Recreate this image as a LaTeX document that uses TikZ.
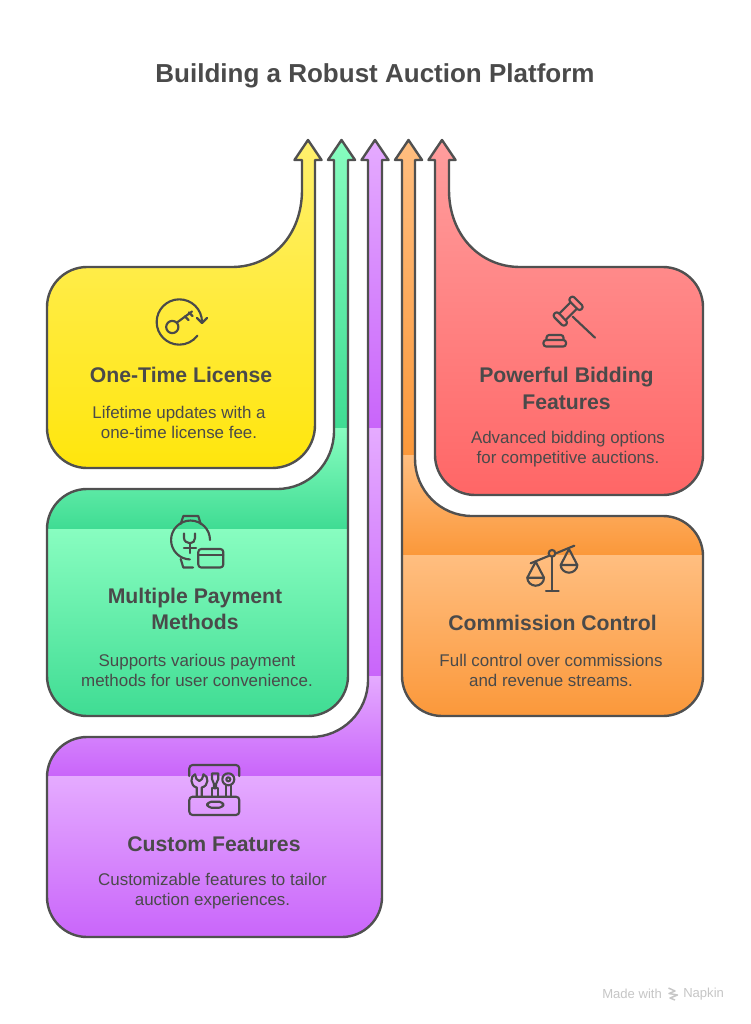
\documentclass[tikz,border=0pt]{standalone}
\usepackage{fontspec}
\setmainfont{Liberation Sans}
\definecolor{ink}{HTML}{4A4A4A}
\definecolor{outl}{HTML}{505050}
\definecolor{yT}{HTML}{FFF06E}\definecolor{yB}{HTML}{FFE60C}
\definecolor{gT}{HTML}{88FDC0}\definecolor{gB}{HTML}{3FDC93}
\definecolor{pT}{HTML}{E5ABFF}\definecolor{pB}{HTML}{C965FA}
\definecolor{oT}{HTML}{FFBE80}\definecolor{oB}{HTML}{FB983A}
\definecolor{rT}{HTML}{FF9E9E}\definecolor{rB}{HTML}{FF6666}
\definecolor{wmgray}{HTML}{C6C6C6}
\newcommand{\band}[4]{\shade[top color=#3,bottom color=#4] (0,#1) rectangle (750,#2);}
\tikzset{
  x=0.75pt,y=-0.75pt,
  outline/.style={draw=outl,line width=1.8pt,line join=round},
  icon/.style={draw=ink,line width=1.6pt,line cap=round,line join=round},
  titletext/.style={text=ink,font=\fontsize{19.5}{24}\selectfont\bfseries,inner sep=0pt},
  headtext/.style={text=ink,font=\fontsize{15.9}{20}\selectfont\bfseries,align=center,inner sep=0pt},
  bodytext/.style={text=ink,font=\fontsize{12.7}{15}\selectfont,align=center,inner sep=0pt},
  marktext/.style={text=wmgray,font=\fontsize{9.8}{11}\selectfont,inner sep=0pt},
}
\begin{document}
\begin{tikzpicture}
\useasboundingbox (0,0) rectangle (750,1024);
\fill[white] (0,0) rectangle (750,1024);
% yellow
\def\pathY{(308,140) -- (321.5,160) -- (315,160) -- (315,425) .. controls (315,449) and (296,468) .. (272,468) -- (87,468) .. controls (65,468) and (47,450) .. (47,428) -- (47,307) .. controls (47,285) and (65,267) .. (87,267) -- (232,267) .. controls (272,267) and (302,235) .. (302,190) -- (302,160) -- (294.5,160) -- cycle}
\begin{scope}\clip \pathY; \band{139}{469}{yT}{yB} \end{scope}
\path[outline] \pathY;
% green
\def\pathG{(341.5,140) -- (355,160) -- (348,160) -- (348,676) .. controls (348,698) and (330,716) .. (308,716) -- (87,716) .. controls (65,716) and (47,698) .. (47,676) -- (47,529) .. controls (47,507) and (65,489) .. (87,489) -- (277,489) .. controls (309,489) and (334,463) .. (334,431) -- (334,160) -- (328,160) -- cycle}
\begin{scope}\clip \pathG; \band{139}{428}{gT}{gB} \band{428}{529}{gT}{gB} \band{529}{717}{gT}{gB} \end{scope}
\path[outline] \pathG;
% purple
\def\pathP{(375,140) -- (388.5,160) -- (382,160) -- (382,897) .. controls (382,919) and (364,937) .. (342,937) -- (87,937) .. controls (65,937) and (47,919) .. (47,897) -- (47,777) .. controls (47,755) and (65,737) .. (87,737) -- (311,737) .. controls (342,737) and (368,712) .. (368,680) -- (368,160) -- (361.5,160) -- cycle}
\begin{scope}\clip \pathP; \band{139}{428}{pT}{pB} \band{428}{676}{pT}{pB} \band{676}{776}{pT}{pB} \band{776}{938}{pT}{pB} \end{scope}
\path[outline] \pathP;
% orange
\def\pathO{(408.5,140) -- (422,160) -- (415,160) -- (415,459) .. controls (415,490) and (440,516) .. (472,516) -- (663,516) .. controls (685,516) and (703,534) .. (703,556) -- (703,676) .. controls (703,698) and (685,716) .. (663,716) -- (442,716) .. controls (420,716) and (402,698) .. (402,676) -- (402,160) -- (395,160) -- cycle}
\begin{scope}\clip \pathO; \band{139}{455}{oT}{oB} \band{455}{555}{oT}{oB} \band{555}{717}{oT}{oB} \end{scope}
\path[outline] \pathO;
% red
\def\pathR{(442,140) -- (455.5,160) -- (449,160) -- (449,190) .. controls (449,235) and (480,267) .. (520,267) -- (663,267) .. controls (685,267) and (703,285) .. (703,307) -- (703,455) .. controls (703,477) and (685,495) .. (663,495) -- (475,495) .. controls (453,495) and (435,477) .. (435,455) -- (435,160) -- (428.5,160) -- cycle}
\begin{scope}\clip \pathR; \band{139}{496}{rT}{rB} \end{scope}
\path[outline] \pathR;
% texts
\node[titletext] (title) at (375,76) {Building a Robust Auction Platform};
\node[headtext] (h1) at (181,375) {One-Time License};
\node[bodytext] (b1) at (179,422) {Lifetime updates with a\\one-time license fee.};
\node[headtext] (h2) at (566.5,388.5) {Powerful Bidding\\Features};
\node[bodytext] (b2) at (568,449) {Advanced bidding options\\for competitive auctions.};
\node[headtext] (h3) at (195,609) {Multiple Payment\\Methods};
\node[bodytext] (b3) at (197,670) {Supports various payment\\methods for user convenience.};
\node[headtext] (h4) at (552.5,623) {Commission Control};
\node[bodytext] (b4) at (551,670) {Full control over commissions\\and revenue streams.};
\node[headtext] (h5) at (214,844) {Custom Features};
\node[bodytext] (b5) at (212.5,891) {Customizable features to tailor\\auction experiences.};
\node[marktext,anchor=west] (m1) at (602,994) {Made with};
\node[marktext,anchor=west] (m2) at (683,994) {Napkin};
\draw[draw=wmgray,line width=1.1pt,line join=round] (668.5,988) -- (675,991) -- (669,993.5) -- (677.5,995) -- (670,998) -- (675,1000);
% key icon
\begin{scope}[icon]
\draw (202,322) arc[start angle=0,end angle=323,radius=17pt];
\draw (197,318) -- (202,323) -- (207,318);
\draw (172.3,327) circle[radius=4.6pt];
\draw (177,322.5) -- (192,311.5);
\draw (185,316.5) -- (188.5,320);
\draw (189,312.5) -- (192.5,316);
\end{scope}
% gavel icon
\begin{scope}[icon]
\draw[rounded corners=2pt] (568.1,322.7) -- (563.8,326.8) -- (552.5,315.5) -- (556.8,311.2) -- cycle;
\draw[rounded corners=2pt] (583.8,307) -- (579.5,311.1) -- (568.2,299.8) -- (572.5,295.5) -- cycle;
\draw (559.2,313.7) -- (570.7,302.2);
\draw (565.6,320.1) -- (577.1,308.6);
\draw (572.7,316.7) -- (595,337.7);
\draw[rounded corners=2pt] (543.5,346.5) -- (543.5,340) -- (566,340) -- (566,346.5) -- cycle;
\draw[rounded corners=2pt] (546.5,340) -- (546.5,335) -- (563.5,335) -- (563.5,340);
\end{scope}
% watch icon
\begin{scope}[icon]
\draw (210,540) arc[start angle=0,end angle=268,radius=14.6pt];
\draw (180.7,524) -- (183.3,516) -- (198.3,516) -- (200.7,524);
\draw (180.7,559) -- (183.3,567.5) -- (193,567.5);
\draw (184,533.5) -- (184,538) .. controls (184,541) and (187,543.3) .. (190,543.3) .. controls (193,543.3) and (195,541) .. (195,538) -- (195,533.5);
\draw (190,543.3) -- (190,553);
\draw (184,547.7) -- (196,547.7);
\draw[rounded corners=2.2pt] (198.3,549) rectangle (223.3,567.5);
\draw (198.3,555) -- (223.3,555);
\end{scope}
% scales icon
\begin{scope}[icon]
\draw (530.7,563.3) -- (548.5,556);
\draw (555.5,553.5) -- (574.3,545.7);
\draw (552,553.3) circle[radius=2.5pt];
\draw (552,556.7) -- (552,591);
\draw (546,591) -- (558.7,591);
\draw (527.3,577.7) -- (535.7,561.7) -- (544,577.7);
\draw (527.3,577.7) -- (544,577.7) .. controls (544,582) and (540.5,585.7) .. (535.7,585.7) .. controls (531,585.7) and (527.3,582) .. (527.3,577.7);
\draw (560.7,565) -- (569,549) -- (577.3,565);
\draw (560.7,565) -- (577.3,565) .. controls (577.3,569) and (573.5,572.7) .. (569,572.7) .. controls (564.5,572.7) and (560.7,569) .. (560.7,565);
\end{scope}
% tools icon
\begin{scope}[icon]
\draw[rounded corners=2.5pt] (189.3,776) -- (189.3,765) -- (239.3,765) -- (239.3,776);
\draw[rounded corners=2.5pt] (189.3,796.7) rectangle (239.3,815);
\draw[rounded corners=3pt] (207.3,801.7) rectangle (223.3,807.7);
\draw (195,774.3) .. controls (190,776) and (190,786) .. (196.7,787.5) -- (196.7,796.7);
\draw (203.5,774.3) .. controls (209,776) and (209,786) .. (201.7,787.5) -- (201.7,796.7);
\draw (195,774.3) -- (196.5,779) -- (199.3,781) -- (202,779) -- (203.5,774.3);
\draw (212,773.5) -- (218.3,773.5) -- (218.3,779) -- (216,784) -- (216,788.3) -- (214,788.3) -- (214,784) -- (212,779) -- cycle;
\draw (211.7,788.3) rectangle (218.3,796.7);
\draw (228.3,779.3) circle[radius=4.5pt];
\draw (228.3,779.3) circle[radius=1.5pt];
\draw (226,785) -- (226,796.7);
\draw (231,785) -- (231,796.7);
\end{scope}
\end{tikzpicture}
\end{document}
